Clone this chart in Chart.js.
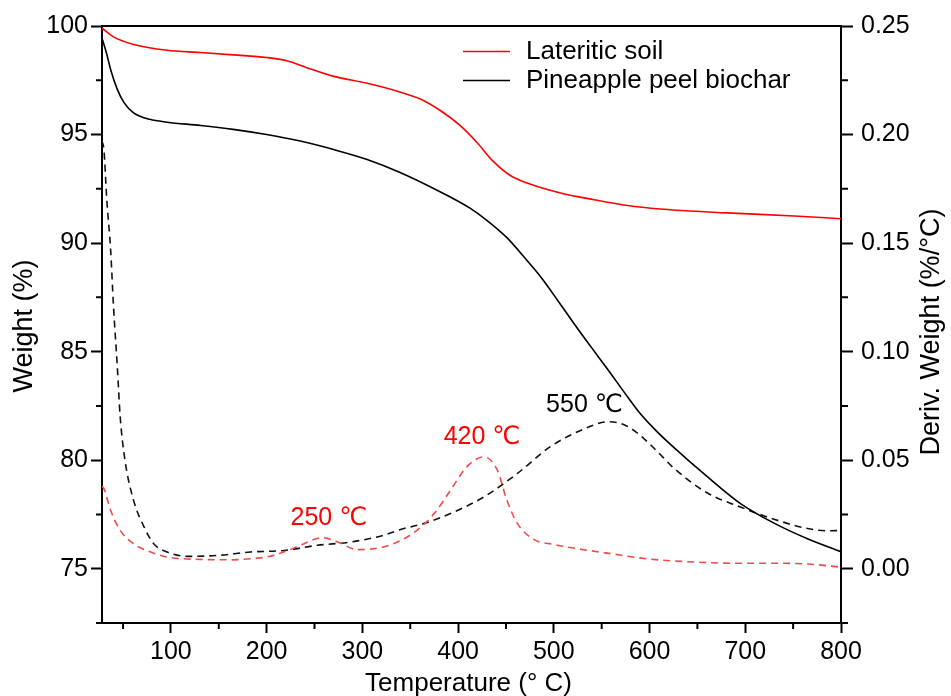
<!DOCTYPE html>
<html><head><meta charset="utf-8">
<script src="https://cdn.jsdelivr.net/npm/chart.js@4.4.1/dist/chart.umd.min.js"></script>
<style>html,body{margin:0;padding:0;background:#fff;} canvas{display:block;}</style>
</head><body>
<canvas id="c" width="951" height="696"></canvas>
<script>
// ---------- DATA ----------
const seriesNames = ['Lateritic soil', 'Pineapple peel biochar'];

const soilTgTemp   = [28, 40, 61, 96, 131, 165, 200, 221, 242, 270, 305, 340, 361, 381, 402, 420, 437, 455, 472, 507, 542, 577, 611, 681, 751, 800];
const soilTgWeight = [99.9, 99.5, 99.15, 98.88, 98.78, 98.67, 98.55, 98.4, 98.08, 97.68, 97.36, 96.95, 96.63, 96.12, 95.42, 94.62, 93.75, 93.1, 92.77, 92.31, 92.0, 91.73, 91.57, 91.39, 91.25, 91.12];

const charTgTemp   = [28, 33, 37, 44, 51, 61, 78, 96, 131, 165, 200, 235, 270, 305, 340, 375, 412, 430, 451, 470, 486, 505, 521, 540, 556, 577, 590, 607, 625, 660, 695, 730, 765, 800];
const charTgWeight = [99.45, 98.7, 98.0, 97.08, 96.47, 96.0, 95.7, 95.57, 95.42, 95.24, 95.0, 94.7, 94.31, 93.85, 93.24, 92.5, 91.62, 91.05, 90.25, 89.3, 88.46, 87.3, 86.3, 85.15, 84.2, 82.92, 82.16, 81.35, 80.6, 79.25, 78.0, 77.1, 76.38, 75.78];

const soilDtgTemp  = [28, 30, 37, 47, 61, 79, 96, 131, 165, 183, 200, 218, 235, 258, 274, 295, 322, 340, 357, 375, 392, 409, 427, 441, 451, 462, 479, 500, 514, 560, 597, 625, 695, 730, 765, 800];
const soilDtgRate  = [0.038, 0.0369, 0.0269, 0.0177, 0.0115, 0.0077, 0.0054, 0.0043, 0.0041, 0.0046, 0.0054, 0.0077, 0.0108, 0.0143, 0.0123, 0.0088, 0.0100, 0.0130, 0.0177, 0.0254, 0.0361, 0.0469, 0.0515, 0.0454, 0.0315, 0.0208, 0.0135, 0.0112, 0.0100, 0.0069, 0.0046, 0.0036, 0.0025, 0.0025, 0.0022, 0.0007];

const charDtgTemp  = [28, 30, 33, 37, 40, 44, 47, 52, 61, 72, 82, 96, 117, 148, 183, 218, 253, 288, 322, 340, 364, 392, 427, 462, 496, 531, 557, 575, 590, 607, 625, 660, 695, 730, 765, 785, 800];
const charDtgRate  = [0.197, 0.193, 0.170, 0.147, 0.121, 0.093, 0.070, 0.050, 0.0315, 0.0192, 0.0115, 0.0077, 0.0057, 0.0061, 0.0077, 0.0084, 0.0108, 0.0123, 0.0154, 0.0181, 0.0208, 0.0254, 0.0331, 0.0439, 0.0561, 0.0643, 0.0677, 0.0660, 0.0615, 0.0545, 0.0465, 0.0350, 0.0284, 0.0228, 0.0185, 0.0175, 0.0176];

const xTicks      = [100, 200, 300, 400, 500, 600, 700, 800];
const xMinorTicks = [50, 150, 250, 350, 450, 550, 650, 750];
const leftTicks      = [75, 80, 85, 90, 95, 100];
const leftMinorTicks = [72.5, 77.5, 82.5, 87.5, 92.5, 97.5];
const rightTicks      = [0, 0.05, 0.10, 0.15, 0.20, 0.25];
const rightMinorTicks = [-0.025, 0.025, 0.075, 0.125, 0.175, 0.225];

const peakLabels = [
  {text: '250 \u2103', temp: 265, rate: 0.0232, color: '#ff0000'},
  {text: '420 \u2103', temp: 425, rate: 0.0608, color: '#ff0000'},
  {text: '550 \u2103', temp: 532, rate: 0.0754, color: '#000000'}
];
const xTitle = 'Temperature (\u00B0 C)';
const leftTitle = 'Weight (%)';
const rightTitle = 'Deriv. Weight (%/\u00B0C)';

// ---------- CHART ----------
const FONT = "'Liberation Sans', Arial, 'DejaVu Sans', sans-serif";
Chart.defaults.font.family = FONT;
Chart.defaults.color = '#000';

const pts = (xs, ys) => xs.map((x, i) => ({x: x, y: ys[i]}));

const decor = {
  id: 'decor',
  afterDraw(chart) {
    const {ctx, chartArea: a, scales} = chart;
    ctx.save();
    ctx.strokeStyle = '#000';
    ctx.lineWidth = 2;
    ctx.beginPath(); ctx.moveTo(a.left - 1, a.top); ctx.lineTo(a.right + 1, a.top); ctx.stroke();
    // minor ticks
    ctx.beginPath();
    leftMinorTicks.forEach(v => { const y = scales.y.getPixelForValue(v); ctx.moveTo(a.left - 6, y); ctx.lineTo(a.left, y); });
    rightMinorTicks.forEach(v => { const y = scales.y1.getPixelForValue(v); ctx.moveTo(a.right, y); ctx.lineTo(a.right + 7, y); });
    xMinorTicks.forEach(v => { const x = scales.x.getPixelForValue(v); ctx.moveTo(x, a.bottom); ctx.lineTo(x, a.bottom + 6); });
    ctx.stroke();

    // legend
    ctx.font = '26px ' + FONT;
    ctx.textBaseline = 'middle';
    ctx.textAlign = 'left';
    const legendRows = [51.5, 80.5];
    [0, 1].forEach(i => {
      const ds = chart.data.datasets[i];
      ctx.strokeStyle = ds.borderColor; ctx.lineWidth = 1.6;
      ctx.beginPath(); ctx.moveTo(463, legendRows[i]); ctx.lineTo(510, legendRows[i]); ctx.stroke();
      ctx.fillStyle = '#000';
      ctx.fillText(ds.label, 526, legendRows[i]);
    });

    // peak labels
    ctx.font = '25px ' + FONT;
    ctx.textAlign = 'center';
    peakLabels.forEach(p => {
      ctx.fillStyle = p.color;
      ctx.fillText(p.text, scales.x.getPixelForValue(p.temp), scales.y1.getPixelForValue(p.rate));
    });

    // axis titles
    ctx.fillStyle = '#000';
    ctx.font = '26px ' + FONT;
    ctx.fillText(xTitle, (a.left + a.right) / 2 - 3, 684);
    ctx.font = '27px ' + FONT;
    ctx.save(); ctx.translate(25, 326); ctx.rotate(-Math.PI / 2); ctx.fillText(leftTitle, 0, 0); ctx.restore();
    ctx.save(); ctx.translate(932, 332); ctx.rotate(-Math.PI / 2); ctx.fillText(rightTitle, 0, 0); ctx.restore();
    ctx.restore();
  }
};

const axisCommon = {
  grid: {drawOnChartArea: false, drawTicks: true, tickLength: 11, tickWidth: 2, tickColor: '#000'},
  border: {display: true, color: '#000', width: 2},
};

new Chart(document.getElementById('c'), {
  type: 'line',
  data: {
    datasets: [
      {label: seriesNames[0], data: pts(soilTgTemp, soilTgWeight), yAxisID: 'y', borderColor: '#ff0000', borderWidth: 1.6, cubicInterpolationMode: 'monotone'},
      {label: seriesNames[1], data: pts(charTgTemp, charTgWeight), yAxisID: 'y', borderColor: '#000000', borderWidth: 1.6, cubicInterpolationMode: 'monotone'},
      {label: seriesNames[0] + ' DTG', data: pts(soilDtgTemp, soilDtgRate), yAxisID: 'y1', borderColor: '#f24a4a', borderWidth: 1.6, borderDash: [7, 5], cubicInterpolationMode: 'monotone'},
      {label: seriesNames[1] + ' DTG', data: pts(charDtgTemp, charDtgRate), yAxisID: 'y1', borderColor: '#111111', borderWidth: 1.6, borderDash: [7, 5], cubicInterpolationMode: 'monotone'}
    ]
  },
  options: {
    responsive: false,
    animation: false,
    layout: {padding: {top: 26, left: 0, right: 0, bottom: 0}},
    elements: {point: {radius: 0}, line: {fill: false}},
    plugins: {legend: {display: false}, tooltip: {enabled: false}},
    scales: {
      x: Object.assign({}, axisCommon, {
        type: 'linear', min: 28, max: 800,
        grid: Object.assign({}, axisCommon.grid, {tickLength: 10}),
        afterBuildTicks: s => { s.ticks = xTicks.map(v => ({value: v})); },
        afterFit: s => { s.height = 73; },
        ticks: {font: {size: 25}, padding: 4, maxRotation: 0, autoSkip: false, callback: v => String(v)}
      }),
      y: Object.assign({}, axisCommon, {
        type: 'linear', position: 'left', min: 72.5, max: 100,
        afterBuildTicks: s => { s.ticks = leftTicks.map(v => ({value: v})); },
        afterFit: s => { s.width = 102; },
        ticks: {font: {size: 25}, padding: 3, autoSkip: false, callback: v => String(v)}
      }),
      y1: Object.assign({}, axisCommon, {
        type: 'linear', position: 'right', min: -0.025, max: 0.25,
        grid: Object.assign({}, axisCommon.grid, {tickLength: 12}),
        afterBuildTicks: s => { s.ticks = rightTicks.map(v => ({value: v})); },
        afterFit: s => { s.width = 110; },
        ticks: {font: {size: 25}, padding: 8, autoSkip: false, callback: v => Number(v).toFixed(2)}
      })
    }
  },
  plugins: [decor]
});
</script>
</body></html>
